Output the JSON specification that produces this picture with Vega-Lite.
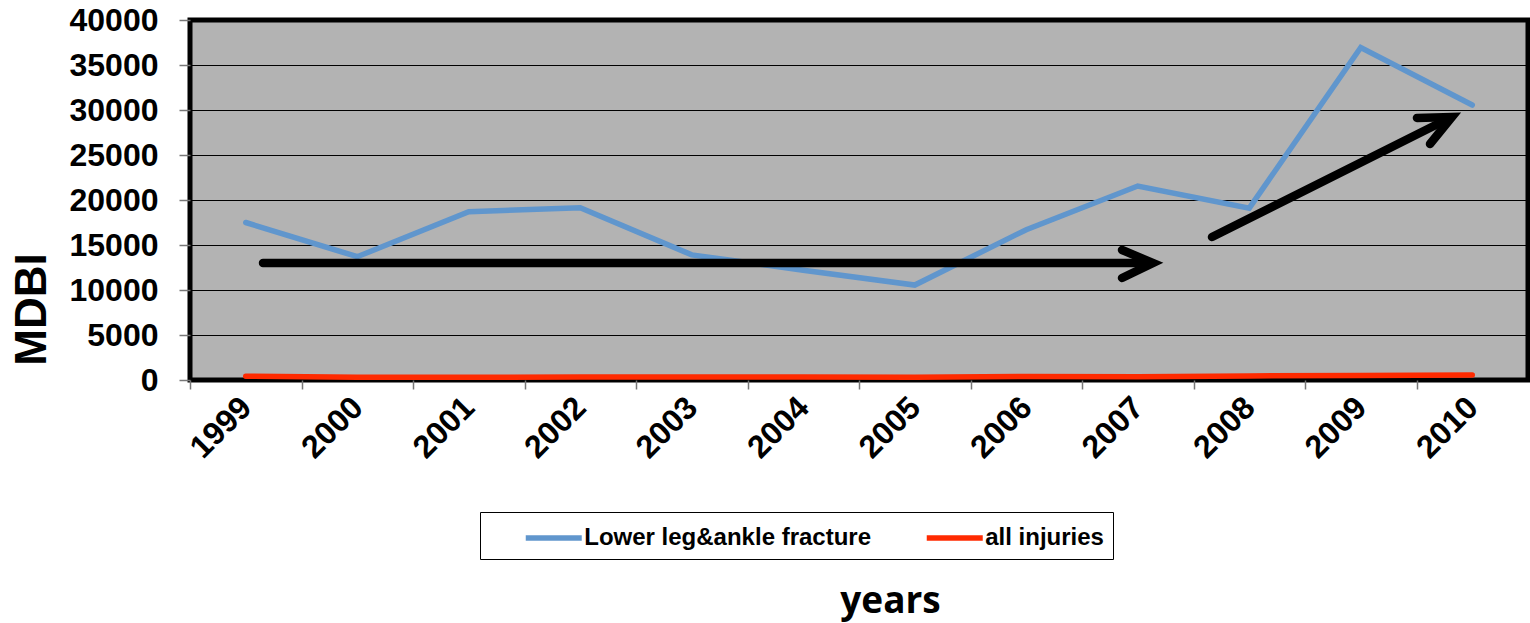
{
  "$schema": "https://vega.github.io/schema/vega-lite/v6.json",
  "autosize": "none",
  "width": 1338,
  "height": 360,
  "padding": {"left": 190, "top": 20, "right": 2, "bottom": 243},
  "background": "white",
  "config": {
    "view": {"stroke": "black", "strokeWidth": 5, "fill": "#b3b3b3"},
    "font": "Liberation Sans"
  },
  "datasets": {
    "series": [
      {"year": 1999, "value": 17500, "series": "Lower leg&ankle fracture"},
      {"year": 2000, "value": 13700, "series": "Lower leg&ankle fracture"},
      {"year": 2001, "value": 18700, "series": "Lower leg&ankle fracture"},
      {"year": 2002, "value": 19150, "series": "Lower leg&ankle fracture"},
      {"year": 2003, "value": 13900, "series": "Lower leg&ankle fracture"},
      {"year": 2004, "value": 12200, "series": "Lower leg&ankle fracture"},
      {"year": 2005, "value": 10550, "series": "Lower leg&ankle fracture"},
      {"year": 2006, "value": 16700, "series": "Lower leg&ankle fracture"},
      {"year": 2007, "value": 21550, "series": "Lower leg&ankle fracture"},
      {"year": 2008, "value": 19100, "series": "Lower leg&ankle fracture"},
      {"year": 2009, "value": 36950, "series": "Lower leg&ankle fracture"},
      {"year": 2010, "value": 30550, "series": "Lower leg&ankle fracture"},
      {"year": 1999, "value": 420, "series": "all injuries"},
      {"year": 2000, "value": 300, "series": "all injuries"},
      {"year": 2001, "value": 300, "series": "all injuries"},
      {"year": 2002, "value": 320, "series": "all injuries"},
      {"year": 2003, "value": 320, "series": "all injuries"},
      {"year": 2004, "value": 320, "series": "all injuries"},
      {"year": 2005, "value": 300, "series": "all injuries"},
      {"year": 2006, "value": 400, "series": "all injuries"},
      {"year": 2007, "value": 350, "series": "all injuries"},
      {"year": 2008, "value": 450, "series": "all injuries"},
      {"year": 2009, "value": 500, "series": "all injuries"},
      {"year": 2010, "value": 550, "series": "all injuries"}
    ],
    "arrows": [
      {"seg": "a1shaft", "o": 1, "x": 1999.155, "y": 13000},
      {"seg": "a1shaft", "o": 2, "x": 2007.10, "y": 13000},
      {"seg": "a1head", "o": 1, "x": 2006.859, "y": 14444},
      {"seg": "a1head", "o": 2, "x": 2007.137, "y": 13000},
      {"seg": "a1head", "o": 3, "x": 2006.859, "y": 11333},
      {"seg": "a2shaft", "o": 1, "x": 2007.666, "y": 15889},
      {"seg": "a2shaft", "o": 2, "x": 2009.78, "y": 29000},
      {"seg": "a2head", "o": 1, "x": 2009.504, "y": 29111},
      {"seg": "a2head", "o": 2, "x": 2009.818, "y": 29222},
      {"seg": "a2head", "o": 3, "x": 2009.621, "y": 26222}
    ]
  },
  "layer": [
    {
      "data": {"name": "series"},
      "mark": {"type": "line", "strokeWidth": 5.5, "strokeCap": "round", "strokeJoin": "miter"},
      "encoding": {
        "x": {
          "field": "year", "type": "quantitative",
          "scale": {"domain": [1998.5, 2010.5], "nice": false, "zero": false},
          "axis": {
            "values": [1999, 2000, 2001, 2002, 2003, 2004, 2005, 2006, 2007, 2008, 2009, 2010],
            "format": "d",
            "grid": false,
            "domain": false,
            "tickOffset": -55.75,
            "labelOffset": 55.75,
            "tickSize": 9,
            "tickColor": "#777777",
            "tickWidth": 1.5,
            "labelAngle": -45,
            "labelAlign": "right",
            "labelBaseline": "middle",
            "labelPadding": 13,
            "labelFont": "Liberation Sans",
            "labelFontSize": 32,
            "labelFontWeight": "bold",
            "labelColor": "black",
            "title": "years",
            "titleFont": "Open Sans",
            "titleFontSize": 37,
            "titleFontWeight": "bold",
            "titleColor": "black",
            "titleX": 700,
            "titleY": 232,
            "titleBaseline": "alphabetic",
            "titleAlign": "center"
          }
        },
        "y": {
          "field": "value", "type": "quantitative",
          "scale": {"domain": [0, 40000], "nice": false},
          "axis": {
            "values": [0, 5000, 10000, 15000, 20000, 25000, 30000, 35000, 40000],
            "format": "d",
            "grid": true,
            "gridColor": "black",
            "gridWidth": 1.2,
            "gridOpacity": 1,
            "domain": false,
            "tickSize": 11,
            "tickColor": "#777777",
            "tickWidth": 1.5,
            "labelPadding": 21,
            "labelFont": "Liberation Sans",
            "labelFontSize": 32,
            "labelFontWeight": "bold",
            "labelColor": "black",
            "title": "MDBI",
            "titleFont": "Liberation Sans",
            "titleFontSize": 44,
            "titleFontWeight": "bold",
            "titleColor": "black",
            "titleAngle": -90,
            "titleX": -180,
            "titleY": 289,
            "titleAlign": "center",
            "titleBaseline": "top"
          }
        },
        "color": {
          "field": "series", "type": "nominal",
          "scale": {"domain": ["Lower leg&ankle fracture", "all injuries"], "range": ["#6096cd", "#ff2a00"]},
          "legend": {
            "title": null,
            "orient": "none",
            "legendX": 290,
            "legendY": 492,
            "direction": "horizontal",
            "columns": 2,
            "columnPadding": 18,
            "padding": 9,
            "strokeColor": "black",
            "fillColor": "white",
            "symbolType": "M-2,0L2,0",
            "symbolStrokeWidth": 5.5,
            "symbolSize": 784,
            "symbolOffset": 47.75,
            "labelOffset": 13.5,
            "labelFont": "Liberation Sans",
            "labelFontSize": 24,
            "labelFontWeight": "bold",
            "labelColor": "black",
            "labelLimit": 400
          }
        }
      }
    },
    {
      "data": {"name": "arrows"},
      "mark": {"type": "line", "color": "black", "strokeWidth": 8.5, "strokeCap": "round", "strokeJoin": "miter"},
      "encoding": {
        "x": {"field": "x", "type": "quantitative"},
        "y": {"field": "y", "type": "quantitative"},
        "detail": {"field": "seg", "type": "nominal"},
        "order": {"field": "o", "type": "quantitative"}
      }
    }
  ]
}
